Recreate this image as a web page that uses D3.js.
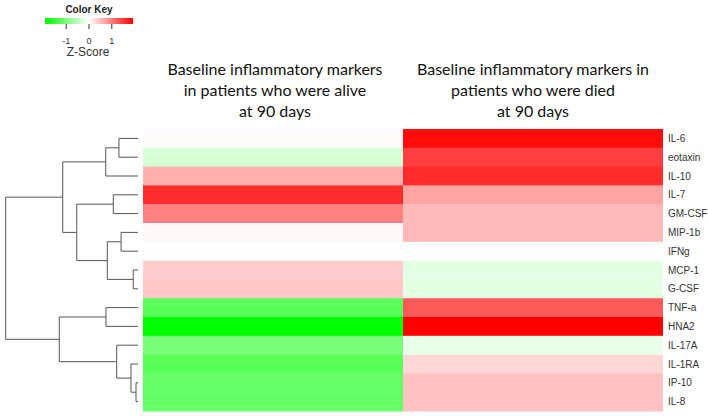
<!DOCTYPE html>
<html><head><meta charset="utf-8">
<script src="https://cdn.jsdelivr.net/npm/d3@7"></script>
<style>body{margin:0;background:#fff}svg{display:block}</style>
</head><body>
<svg id="c" width="708" height="416"></svg>
<script>
const markers = ["IL-6","eotaxin","IL-10","IL-7","GM-CSF","MIP-1b","IFNg","MCP-1","G-CSF","TNF-a","HNA2","IL-17A","IL-1RA","IP-10","IL-8"];
const groups = ["alive","died"];
const aliveZ = [0.03,-0.3,0.6,1.6,0.95,0.05,0.01,0.38,0.42,-1.25,-1.93,-1.0,-1.25,-1.15,-1.15];
const diedZ = [1.85,1.45,1.6,0.7,0.53,0.53,0.01,-0.2,-0.2,1.25,1.93,-0.17,0.3,0.47,0.47];
const titleAlive = ["Baseline inflammatory markers","in patients who were alive","at 90 days"];
const titleDied = ["Baseline inflammatory markers in","patients who were died","at 90 days"];
const keyTicks = [-1,0,1];
const keyRange = [-1.93,1.93];
// row dendrogram (heights)
const dendro = {h:10,c:[
  {h:5.69,c:[
    {h:2.44,c:[{h:1.44,c:[{l:"IL-6"},{l:"eotaxin"}]},{l:"IL-10"}]},
    {h:4.63,c:[
      {h:1.87,c:[{l:"IL-7"},{l:"GM-CSF"}]},
      {h:2.32,c:[{h:1.28,c:[{l:"MIP-1b"},{l:"IFNg"}]},{h:0.36,c:[{l:"MCP-1"},{l:"G-CSF"}]}]}
    ]}
  ]},
  {h:5.95,c:[
    {h:2.42,c:[{l:"TNF-a"},{l:"HNA2"}]},
    {h:1.61,c:[{l:"IL-17A"},{h:0.53,c:[{l:"IL-1RA"},{h:0.15,c:[{l:"IP-10"},{l:"IL-8"}]}]}]}
  ]}
]};

const svg = d3.select("#c");
const color = d3.scaleLinear().domain([keyRange[0],0,keyRange[1]]).range(["#00ff00","#ffffff","#ff0000"]);
const y = d3.scaleBand().domain(markers).range([129,411]);
const x = d3.scaleBand().domain(groups).range([143,663]);

// heatmap
const vals = {alive:aliveZ, died:diedZ};
groups.forEach(g=>{
  svg.append("g").selectAll("rect").data(markers).join("rect")
    .attr("x",x(g)).attr("y",d=>y(d)).attr("width",x.bandwidth()).attr("height",y.bandwidth()+0.5)
    .attr("fill",(d,i)=>color(vals[g][i]));
});

// row labels
svg.append("g").selectAll("text").data(markers).join("text")
  .attr("x",668).attr("y",d=>y(d)+y.bandwidth()/2).attr("dy","0.35em")
  .attr("font-family","Liberation Sans, Arial, sans-serif").attr("font-size",10).attr("fill","#333")
  .text(d=>d);

// titles
function title(lines,cx){
  svg.append("g").selectAll("text").data(lines).join("text")
    .attr("x",cx).attr("y",(d,i)=>75+i*21).attr("text-anchor","middle")
    .attr("font-family","Lato, 'Open Sans', sans-serif").attr("font-size",16).attr("fill","#111")
    .text(d=>d);
}
title(titleAlive,(x("alive")+x.bandwidth()/2)+2);
title(titleDied,x("died")+x.bandwidth()/2);

// dendrogram
const root = d3.hierarchy(dendro, d=>d.c);
const hx = d3.scaleLinear().domain([0,10]).range([138,5.7]);
root.eachAfter(n=>{
  if(!n.children){ n.py = y(n.data.l)+y.bandwidth()/2; n.px = hx(0); }
  else { n.py = d3.mean(n.children,c=>c.py); n.px = hx(n.data.h); }
});
const dg = svg.append("g").attr("stroke","#555").attr("stroke-width",1).attr("fill","none");
root.descendants().filter(n=>n.children).forEach(n=>{
  const ys = n.children.map(c=>c.py);
  dg.append("line").attr("x1",n.px).attr("x2",n.px).attr("y1",d3.min(ys)).attr("y2",d3.max(ys));
  n.children.forEach(c=>{
    dg.append("line").attr("x1",n.px).attr("x2",c.px).attr("y1",c.py).attr("y2",c.py);
  });
});

// color key
const kx = d3.scaleLinear().domain(keyRange).range([45,133]);
const grad = svg.append("defs").append("linearGradient").attr("id","kg");
d3.range(0,1.0001,0.05).forEach(t=>{
  grad.append("stop").attr("offset",t).attr("stop-color",color(keyRange[0]+t*(keyRange[1]-keyRange[0])));
});
svg.append("rect").attr("x",kx.range()[0]).attr("y",18).attr("width",kx.range()[1]-kx.range()[0]).attr("height",6).attr("fill","url(#kg)");
svg.append("text").attr("x",89).attr("y",13).attr("text-anchor","middle")
  .attr("font-family","Liberation Sans, Arial, sans-serif").attr("font-size",10).attr("font-weight","bold").attr("fill","#222").text("Color Key");
const kt = svg.append("g").attr("font-family","Liberation Sans, Arial, sans-serif").attr("fill","#333");
kt.selectAll("line").data(keyTicks).join("line")
  .attr("x1",d=>kx(d)).attr("x2",d=>kx(d)).attr("y1",24).attr("y2",29).attr("stroke","#333");
kt.selectAll("text").data(keyTicks).join("text")
  .attr("x",d=>kx(d)).attr("y",44).attr("text-anchor","middle").attr("font-size",9).text(d=>d);
svg.append("text").attr("x",88).attr("y",56).attr("text-anchor","middle")
  .attr("font-family","Liberation Sans, Arial, sans-serif").attr("font-size",12).attr("fill","#333").text("Z-Score");
</script>
</body></html>
